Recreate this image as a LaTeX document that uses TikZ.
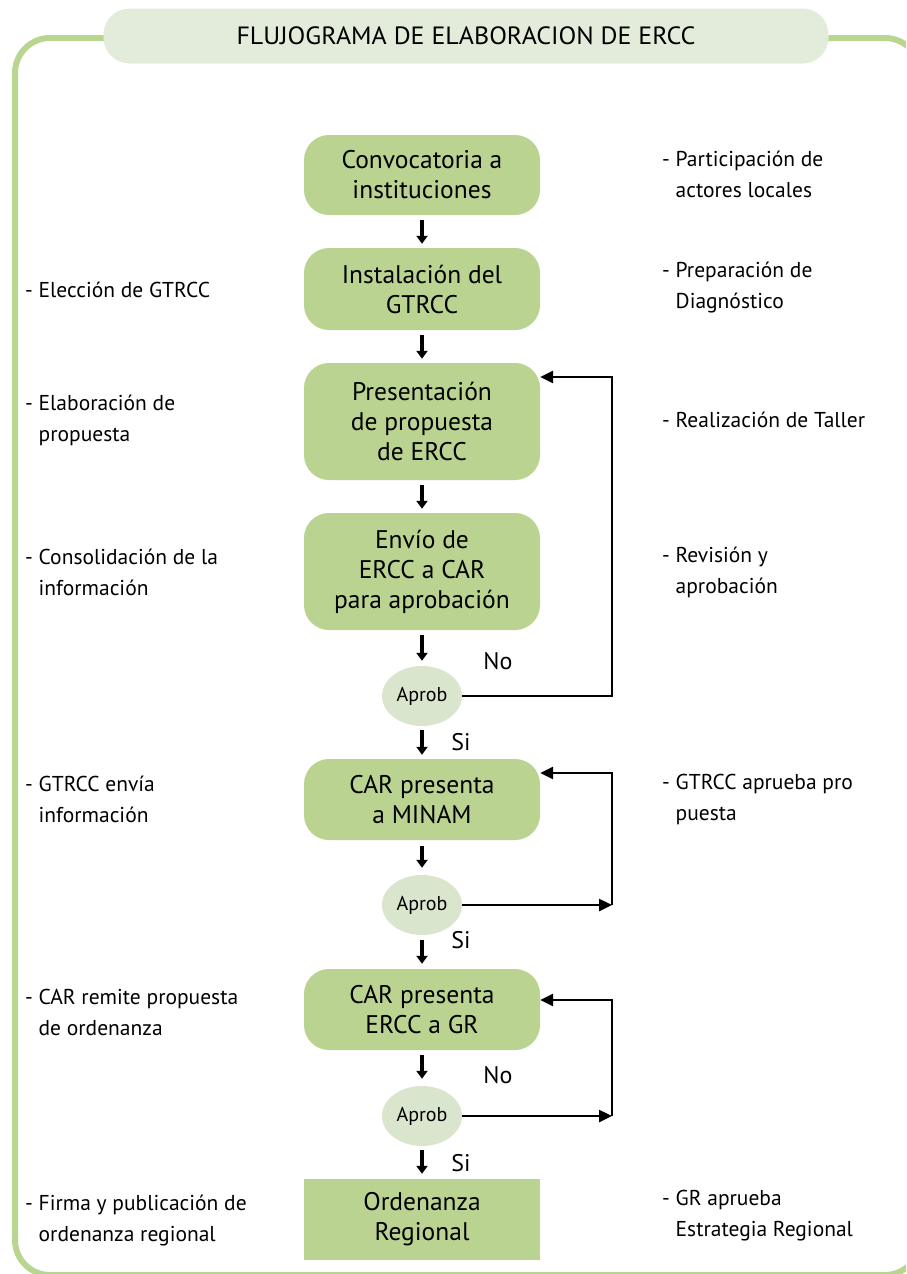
\documentclass[tikz,border=0pt]{standalone}
\usepackage{fontspec}
\usepackage{graphicx}
\setmainfont{PT Sans}
\usetikzlibrary{arrows.meta,shapes.geometric}
\definecolor{boxgreen}{HTML}{BAD391}
\definecolor{ellgreen}{HTML}{DAE5CE}
\definecolor{pillcol}{HTML}{E3EBDA}
\definecolor{framecol}{HTML}{B8D68F}
\definecolor{txt}{HTML}{000000}
\tikzset{
  stepbox/.style={rounded corners=25pt, fill=boxgreen, minimum width=236pt, align=center, inner sep=0pt, text=txt, font=\fontsize{25.5}{30}\selectfont},
  endbox/.style={fill=boxgreen, minimum width=236pt, align=center, inner sep=0pt, text=txt, font=\fontsize{25.5}{30}\selectfont},
  decision/.style={ellipse, fill=ellgreen, minimum width=80pt, minimum height=60pt, inner sep=0pt, text=txt, font=\fontsize{20}{22}\selectfont},
  sidetext/.style={anchor=west, align=left, inner sep=0pt, text=txt, font=\fontsize{21.5}{31}\selectfont},
  yesno/.style={inner sep=0pt, text=txt, font=\fontsize{24}{26}\selectfont},
  downarr/.style={line width=3.5pt, -{Triangle[length=8pt,width=11pt]}},
  looparr/.style={line width=2.5pt, -{Triangle[length=13pt,width=12pt]}},
  framel/.style={draw=framecol, line width=6pt, rounded corners=35pt},
  pill/.style={fill=pillcol, rounded corners=26pt, minimum width=725pt, minimum height=55pt, inner sep=0pt, text=txt}
}
\begin{document}
\begin{tikzpicture}[x=1pt,y=-1pt]
\useasboundingbox (0,0) rectangle (906,1274);
\begin{scope}
\clip (0,0) rectangle (906,1274);
\draw[framel] (15,38) rectangle (920,1275);
\end{scope}
\node[pill] (title) at (466,36) {\resizebox{459pt}{\height}{\fontsize{25}{30}\selectfont FLUJOGRAMA DE ELABORACION DE ERCC}};

% main boxes
\node[stepbox, minimum height=80pt] (b1) at (422,175) {Convocatoria a\\instituciones};
\node[stepbox, minimum height=82pt] (b2) at (422,289) {Instalación del\\GTRCC};
\node[stepbox, minimum height=117pt] (b3) at (422,421.5) {Presentación\\de propuesta\\de ERCC};
\node[stepbox, minimum height=117pt] (b4) at (422,571.5) {Envío de\\ERCC a CAR\\para aprobación};
\node[decision] (a1) at (422,696) {Aprob};
\node[stepbox, minimum height=81pt] (b5) at (422,799.5) {CAR presenta\\a MINAM};
\node[decision] (a2) at (422,905) {Aprob};
\node[stepbox, minimum height=81pt] (b6) at (422,1009.5) {CAR presenta\\ERCC a GR};
\node[decision] (a3) at (422,1116) {Aprob};
\node[endbox, minimum height=81pt] (b7) at (422,1219.5) {Ordenanza\\Regional};

% down arrows
\draw[downarr] ([yshift=-5pt]b1.south) -- ([yshift=4pt]b2.north);
\draw[downarr] ([yshift=-5pt]b2.south) -- ([yshift=4pt]b3.north);
\draw[downarr] ([yshift=-5pt]b3.south) -- ([yshift=4pt]b4.north);
\draw[downarr] ([yshift=-5pt]b4.south) -- ([yshift=5pt]a1.north);
\draw[downarr] ([yshift=-4pt]a1.south) -- ([yshift=4pt]b5.north);
\draw[downarr] ([yshift=-6pt]b5.south) -- ([yshift=7pt]a2.north);
\draw[downarr] ([yshift=-5pt]a2.south) -- ([yshift=5pt]b6.north);
\draw[downarr] ([yshift=-5pt]b6.south) -- ([yshift=7pt]a3.north);
\draw[downarr] ([yshift=-4pt]a3.south) -- ([yshift=5pt]b7.north);

% loops
\coordinate (r1) at (612,377);
\coordinate (r2) at (612,773);
\coordinate (r3) at (612,1000);
\draw[looparr] (a1.east) -- (a1.east -| r1) -- (r1) -- (r1 -| b3.east);
\coordinate (c2) at (a2.east -| r2);
\draw[looparr] (a2.east) -- (c2);
\draw[looparr] (c2) -- (r2) -- (r2 -| b5.east);
\coordinate (c3) at (a3.east -| r3);
\draw[looparr] (a3.east) -- (c3);
\draw[looparr] (c3) -- (r3) -- (r3 -| b6.east);

% yes/no labels
\node[yesno] (no1) at (498,661) {No};
\node[yesno] (si1) at (461,742) {Si};
\node[yesno] (si2) at (461,940) {Si};
\node[yesno] (no3) at (498,1075) {No};
\node[yesno] (si3) at (461,1163) {Si};

% left side texts
\node[sidetext] (l1) at (25,290) {- Elección de GTRCC};
\node[sidetext] (l2) at (25,420) {- Elaboración de\\\phantom{- }propuesta};
\node[sidetext] (l3) at (25,572) {- Consolidación de la\\\phantom{- }información};
\node[sidetext] (l4) at (25,799) {- GTRCC envía\\\phantom{- }información};
\node[sidetext] (l5) at (25,1012) {- CAR remite propuesta\\\phantom{- }de ordenanza};
\node[sidetext] (l6) at (25,1221) {- Firma y publicación de\\\phantom{- }ordenanza regional};

% right side texts
\node[sidetext] (s1) at (662,174) {- Participación de\\\phantom{- }actores locales};
\node[sidetext] (s2) at (662,288) {- Preparación de\\\phantom{- }Diagnóstico};
\node[sidetext] (s3) at (662,420) {- Realización de Taller};
\node[sidetext] (s4) at (662,572) {- Revisión y\\\phantom{- }aprobación};
\node[sidetext] (s5) at (662,799) {- GTRCC aprueba pro\\\phantom{- }puesta};
\node[sidetext] (s6) at (662,1216) {- GR aprueba\\\phantom{- }Estrategia Regional};
\end{tikzpicture}
\end{document}
